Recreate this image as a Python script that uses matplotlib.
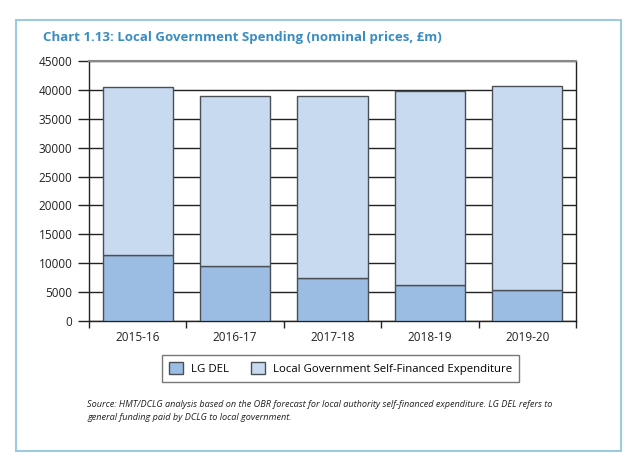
import matplotlib
matplotlib.use("Agg")
import matplotlib.pyplot as plt
from matplotlib.patches import Rectangle, Patch

categories = ["2015-16", "2016-17", "2017-18", "2018-19", "2019-20"]
lg_del = [11500, 9550, 7500, 6150, 5400]
totals = [40450, 39000, 39000, 39800, 40600]
self_financed = [t - d for t, d in zip(totals, lg_del)]
yticks = [0, 5000, 10000, 15000, 20000, 25000, 30000, 35000, 40000, 45000]

c_del = "#9bbde4"
c_sf = "#c8daf0"
edge = "#4a4f55"

plt.rcParams['font.family'] = ['Open Sans', 'DejaVu Sans']

W, H = 642, 474
fig = plt.figure(figsize=(W / 100, H / 100), dpi=100)

# outer frame
fig.patches.append(Rectangle((16 / W, 1 - 451 / H), (621 - 16) / W, (451 - 20) / H,
                             transform=fig.transFigure, fill=False,
                             edgecolor="#9ccbe0", linewidth=1.5))

fig.text(43 / W, 1 - 38 / H, "Chart 1.13: Local Government Spending (nominal prices, £m)",
         fontsize=9.5, fontweight="bold", color="#3a8dc3", va="center", ha="left")

ax = fig.add_axes([89 / W, 1 - 321 / H, (576 - 89) / W, (321 - 61) / H])
x = list(range(len(categories)))
ax.bar(x, lg_del, width=0.72, color=c_del, edgecolor=edge, linewidth=1.0, zorder=3)
ax.bar(x, self_financed, bottom=lg_del, width=0.72, color=c_sf, edgecolor=edge,
       linewidth=1.0, zorder=3)

ax.set_xlim(-0.5, len(categories) - 0.5)
ax.set_ylim(0, 45000)
ax.set_yticks(yticks)
ax.set_yticklabels([str(v) for v in yticks], fontsize=8.5, color="#222222")
ax.yaxis.grid(True, color="#222222", linewidth=1.0, zorder=0)
ax.set_axisbelow(True)
ax.tick_params(axis="y", length=8, width=1.0, color="#222222", pad=4)

ax.set_xticks(x)
ax.set_xticklabels(categories, fontsize=8.5, color="#222222")
ax.set_xticks([i - 0.5 for i in range(len(categories) + 1)], minor=True)
ax.tick_params(axis="x", which="major", length=0, pad=7)
ax.tick_params(axis="x", which="minor", length=5, width=1.0, color="#222222")

for s in ["left", "right", "bottom"]:
    ax.spines[s].set_color("#222222")
    ax.spines[s].set_linewidth(1.0)
ax.spines["top"].set_color("#888888")
ax.spines["top"].set_linewidth(1.5)

handles = [Patch(facecolor=c_del, edgecolor=edge, label="LG DEL"),
           Patch(facecolor=c_sf, edgecolor=edge, label="Local Government Self-Financed Expenditure")]
leg = fig.legend(handles=handles, loc="center", ncol=2,
                 bbox_to_anchor=((163 + 518) / 2 / W, 1 - 368.5 / H),
                 fontsize=8.2, frameon=True, fancybox=False, edgecolor="#555555",
                 handlelength=1.2, handleheight=1.2, columnspacing=2.0,
                 borderpad=0.6, handletextpad=0.7)
leg.get_frame().set_linewidth(1.0)

fig.text(87 / W, 1 - 411 / H,
         "Source: HMT/DCLG analysis based on the OBR forecast for local authority self-financed expenditure. LG DEL refers to\n"
         "general funding paid by DCLG to local government.",
         fontsize=6.6, style="italic", color="#222222", va="center", ha="left",
         linespacing=1.5)

fig.savefig("out.png", dpi=100)
